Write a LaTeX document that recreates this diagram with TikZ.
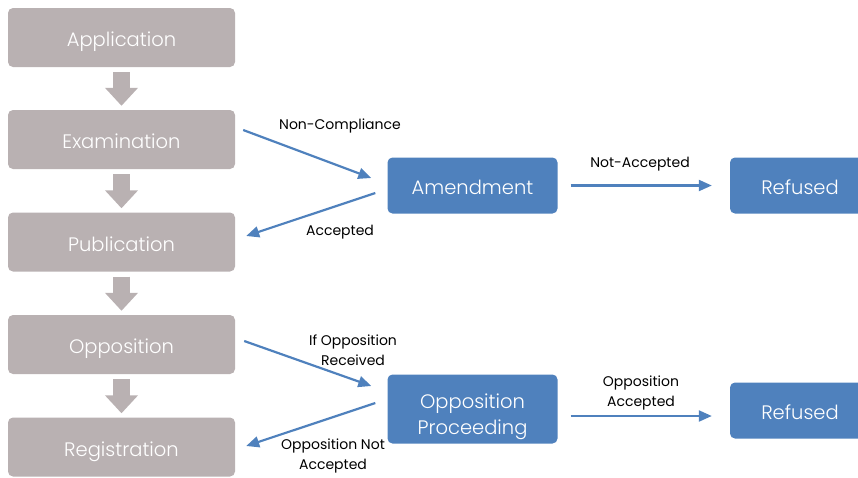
\documentclass[tikz,border=0pt]{standalone}
\usepackage{fontspec}
\setmainfont{Poppins}
\newfontfamily\stagefont{Poppins}[UprightFont=* Light]
\usetikzlibrary{arrows.meta,positioning}
\definecolor{stagegray}{RGB}{185,177,178}
\definecolor{stageblue}{RGB}{79,129,189}
\tikzset{
  stage/.style={rectangle, rounded corners=5pt, fill=stagegray, text=white,
    minimum width=227pt, minimum height=59pt, text height=20pt, text depth=2pt,
    font=\stagefont\fontsize{19.5}{26}\selectfont},
  outcome/.style={rectangle, rounded corners=5pt, fill=stageblue, text=white,
    minimum width=170pt, minimum height=56pt, align=center, text height=20pt, text depth=2pt,
    font=\stagefont\fontsize{19.5}{26}\selectfont},
  flow/.style={line width=17pt, stagegray, -{Triangle[width=32pt,length=18pt]}},
  route/.style={line width=2.2pt, stageblue, -{Triangle[width=11pt,length=13pt]}},
  tag/.style={align=center, font=\fontsize{14}{19.5}\selectfont}
}
\begin{document}
\begin{tikzpicture}[x=1pt,y=-1pt]
  \useasboundingbox (0,0) rectangle (858,477);
  % main chain of stages
  \foreach \i/\y/\name in {1/37.5/Application,2/139.5/Examination,3/242/Publication,4/344.5/Opposition,5/447/Registration} {
    \node[stage] (s\i) at (121.5,\y) {\name};
  }
  \foreach \i/\j in {1/2,2/3,3/4,4/5} {
    \draw[flow] ([yshift=-5pt]s\i.south) -- ([yshift=4pt]s\j.north);
  }
  % side branches
  \node[outcome] (amend) at (472.5,185.5) {Amendment};
  \node[outcome, minimum width=140pt] (refA) at (800,185.5) {Refused};
  \node[outcome, minimum height=69pt, text height=52pt] (oppro) at (472.5,409) {Opposition\\Proceeding};
  \node[outcome, minimum width=140pt] (refB) at (800,410.5) {Refused};
  \draw[route] ([xshift=8pt,yshift=9.5pt]s2.east) -- ([xshift=-16pt,yshift=7.5pt]amend.west);
  \draw[route] ([xshift=-12pt,yshift=-7.5pt]amend.west) -- ([xshift=11pt,yshift=6pt]s3.east);
  \draw[route] ([xshift=13pt]amend.east) -- ([xshift=-18pt]refA.west);
  \draw[route] ([xshift=9pt,yshift=3.5pt]s4.east) -- ([xshift=-16pt,yshift=23pt]oppro.west);
  \draw[route] ([xshift=-12pt,yshift=6pt]oppro.west) -- ([xshift=11pt,yshift=1pt]s5.east);
  \draw[route] ([xshift=13pt,yshift=-7pt]oppro.east) -- ([xshift=-18pt,yshift=-5.5pt]refB.west);
  % labels
  \node[tag] (tnc) at (340,126) {Non-Compliance};
  \node[tag] (tacc) at (340,232) {Accepted};
  \node[tag] (tna) at (640,164) {Not-Accepted};
  \node[tag] (tor) at (353,350) {If Opposition\\Received};
  \node[tag] (tona) at (333,456) {Opposition Not\\Accepted};
  \node[tag] (toa) at (641,393) {Opposition\\Accepted};
\end{tikzpicture}
\end{document}
